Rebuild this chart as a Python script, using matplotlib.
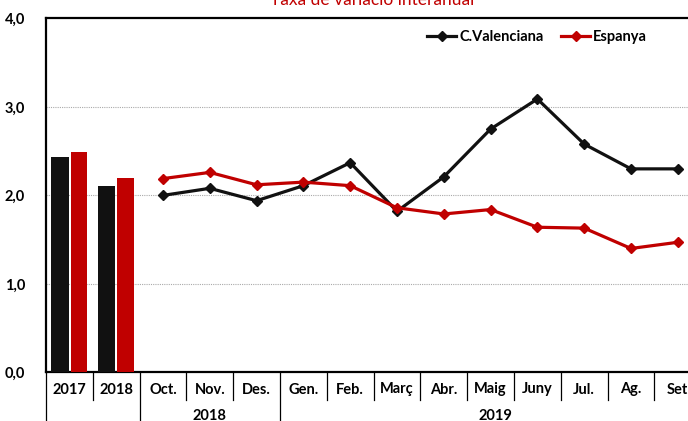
import matplotlib
matplotlib.use("Agg")
import matplotlib.pyplot as plt
from matplotlib.lines import Line2D
import matplotlib.transforms as mtransforms

categories = ["2017", "2018", "Oct.", "Nov.", "Des.", "Gen.", "Feb.", "Març",
              "Abr.", "Maig", "Juny", "Jul.", "Ag.", "Set"]
groups = [("2018", 3.0), ("2019", 9.1)]
bar_cv = [2.43, 2.11]
bar_es = [2.49, 2.20]
line_cv = [2.00, 2.08, 1.94, 2.11, 2.37, 1.82, 2.21, 2.75, 3.09, 2.58, 2.30, 2.30]
line_es = [2.19, 2.26, 2.12, 2.15, 2.11, 1.86, 1.79, 1.84, 1.64, 1.63, 1.40, 1.47]
yticks = [0, 1, 2, 3, 4]
ytick_labels = ["0,0", "1,0", "2,0", "3,0", "4,0"]
title = "Taxa de variació interanual"
series_names = ["C.Valenciana", "Espanya"]

BLACK = "#111111"
RED = "#C00000"
FONT = ["Lato", "DejaVu Sans"]
plt.rcParams["font.family"] = FONT

W, H = 688, 421
fig = plt.figure(figsize=(W / 100, H / 100), dpi=100)
left_px, right_px, top_px, bot_px = 46, 701.2, 18.5, 372.3
ax = fig.add_axes([left_px / W, 1 - bot_px / H, (right_px - left_px) / W, (bot_px - top_px) / H])

# bars
ax.bar([i - 0.2 for i in range(len(bar_cv))], bar_cv, width=0.37, color=BLACK, zorder=3)
ax.bar([i + 0.2 for i in range(len(bar_es))], bar_es, width=0.35, color=RED, zorder=3)

# lines
xs = list(range(2, 2 + len(line_cv)))
ax.plot(xs, line_cv, color=BLACK, lw=2.3, marker="D", ms=5, zorder=4, label=series_names[0])
ax.plot(xs, line_es, color=RED, lw=2.3, marker="D", ms=5, zorder=4, label=series_names[1])

ax.set_xlim(-0.5, len(categories) - 0.5)
ax.set_ylim(0, 4)
ax.set_yticks(yticks)
ax.set_yticklabels(ytick_labels, fontsize=10.5, fontweight="bold")
ax.tick_params(axis="y", length=0, pad=15)
ax.set_xticks([])
for y in [1, 2, 3]:
    ax.axhline(y, color="#aaaaaa", lw=0.8, ls=(0, (1, 1)), zorder=1)

ax.spines["right"].set_visible(False)
ax.spines["top"].set_linewidth(1.6)
ax.spines["bottom"].set_linewidth(1.6)
ax.spines["left"].set_linewidth(1.6)

# x labels
tr = mtransforms.blended_transform_factory(ax.transData, ax.transAxes)
ah = bot_px - top_px
row1 = -(389.5 - bot_px) / ah
row2 = -(415.5 - bot_px) / ah
short = -(400 - bot_px) / ah
long_ = -(425 - bot_px) / ah
for i, c in enumerate(categories):
    ax.text(i, row1, c, transform=tr, ha="center", va="center", fontsize=10.5,
            fontweight="bold", clip_on=False)
long_seps = {-0.5, 1.5, 4.5}
for k in range(len(categories)):
    xb = k - 0.5
    yb = long_ if xb in long_seps else short
    ax.add_line(Line2D([xb, xb], [0, yb], transform=tr, color="black", lw=0.9, clip_on=False))
for name, xc in groups:
    ax.text(xc, row2, name, transform=tr, ha="center", va="center", fontsize=10.5,
            fontweight="bold", clip_on=False)

fig.text(372 / W, 1 - 5 / H, title, color=RED, fontsize=12.5, ha="center", va="baseline")

leg = ax.legend(loc="center", bbox_to_anchor=(537 / W, 1 - 37 / H), bbox_transform=fig.transFigure,
                ncol=2, frameon=False, handlelength=2.0, handletextpad=0.2, columnspacing=1.2,
                prop={"weight": "bold", "size": 10.5, "family": FONT})

fig.savefig("out.png", dpi=100)
